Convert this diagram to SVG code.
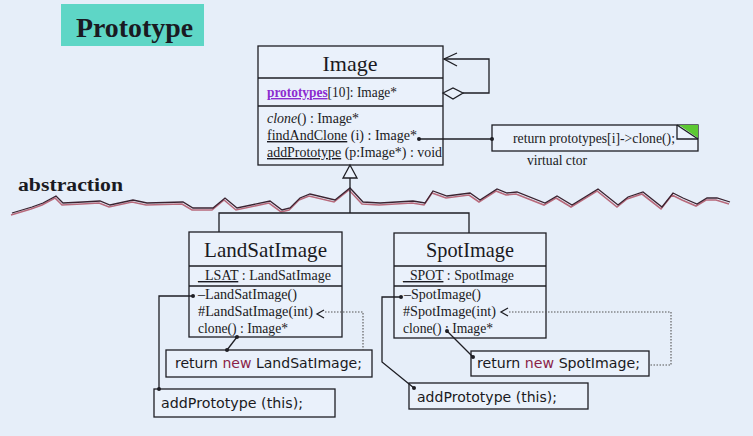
<svg xmlns="http://www.w3.org/2000/svg" width="753" height="436" viewBox="0 0 753 436">
<defs>
<style>
.bg{fill:#e6eef9}
.box{fill:#eaf1fb;stroke:#1e1e24;stroke-width:1.3}
.ln{fill:none;stroke:#1e1e24;stroke-width:1.3}
.dot{fill:none;stroke:#555;stroke-width:1.1;stroke-dasharray:1.5 1.5}
.ser{font-family:"Liberation Serif","Times New Roman",serif;fill:#1a1a22}
.t1{font-size:22px}
.t2{font-size:14px}
.code{font-family:"DejaVu Sans","Liberation Sans",sans-serif;font-size:14px;fill:#1a1a22}
.kw{fill:#8a1f48}
.dt{fill:#1e1e24}
</style>
</defs>
<rect class="bg" x="0" y="0" width="753" height="436"/>

<g id="title">
<rect x="61" y="4" width="143" height="42" fill="#5ed6c6"/>
<text class="ser" x="76" y="37" font-size="27" font-weight="bold" fill="#0d1a33" textLength="117" lengthAdjust="spacingAndGlyphs">Prototype</text>
</g>

<g id="abstraction">
<text class="ser" x="18" y="191" font-size="18" font-weight="bold" fill="#14142a" textLength="105" lengthAdjust="spacingAndGlyphs">abstraction</text>
<polyline transform="translate(-1,2)" fill="none" stroke="#b86a7c" stroke-width="1.6" points="12,213 32,207 43,203 56,196 63,203 83,202 100,201 110,205 133,200 147,203 183,202 193,208 213,208 225,198 237,208 270,201 282,210 290,208 300,198 310,194 335,200 350,188 363,202 380,203 413,201 425,203 433,191 447,196 470,193 480,200 497,189 507,193 517,192 545,203 557,196 572,205 598,189 618,205 628,197 643,192 662,207 673,193 683,198 697,204 707,198 717,198 730,202"/>
<polyline fill="none" stroke="#3a2230" stroke-width="1.3" points="12,213 32,207 43,203 56,196 63,203 83,202 100,201 110,205 133,200 147,203 183,202 193,208 213,208 225,198 237,208 270,201 282,210 290,208 300,198 310,194 335,200 350,188 363,202 380,203 413,201 425,203 433,191 447,196 470,193 480,200 497,189 507,193 517,192 545,203 557,196 572,205 598,189 618,205 628,197 643,192 662,207 673,193 683,198 697,204 707,198 717,198 730,202"/>
</g>

<g id="Image">
<rect class="box" x="258" y="46" width="185" height="119"/>
<line class="ln" x1="258" y1="78" x2="443" y2="78"/>
<line class="ln" x1="258" y1="106" x2="443" y2="106"/>
<text class="ser t1" x="350" y="71" text-anchor="middle">Image</text>
<text class="ser t2" x="267" y="97" textLength="130" lengthAdjust="spacingAndGlyphs"><tspan font-weight="bold" fill="#8c2bd0" text-decoration="underline">prototypes</tspan>[10]: Image*</text>
<text class="ser t2" x="267" y="123" textLength="92" lengthAdjust="spacingAndGlyphs"><tspan font-style="italic">clone</tspan>() : Image*</text>
<text class="ser t2" x="267" y="140" textLength="150" lengthAdjust="spacingAndGlyphs"><tspan text-decoration="underline">findAndClone</tspan> (i) : Image*</text>
<text class="ser t2" x="267" y="157" textLength="175" lengthAdjust="spacingAndGlyphs"><tspan text-decoration="underline">addPrototype</tspan> (p:Image*) : void</text>
</g>

<g id="note">
<rect class="box" x="492" y="125" width="206" height="26"/>
<polygon points="679,125 698,125 698,138" fill="#5cc832"/>
<polyline class="ln" points="677,125 677,139 698,139"/>
<line class="ln" x1="677" y1="125" x2="698" y2="139"/>
<text class="ser t2" x="513" y="143" font-size="13" textLength="162" lengthAdjust="spacingAndGlyphs">return prototypes[i]-&gt;clone();</text>
<text class="ser t2" x="527" y="165" font-size="13" textLength="60" lengthAdjust="spacingAndGlyphs">virtual ctor</text>
</g>

<g id="LandSatImage">
<rect class="box" x="189" y="232" width="153" height="105"/>
<line class="ln" x1="189" y1="266" x2="342" y2="266"/>
<line class="ln" x1="189" y1="286" x2="342" y2="286"/>
<text class="ser t1" x="204" y="257" textLength="123" lengthAdjust="spacingAndGlyphs">LandSatImage</text>
<text class="ser t2" x="198" y="280" textLength="133" lengthAdjust="spacingAndGlyphs"><tspan text-decoration="underline">_LSAT</tspan> : LandSatImage</text>
<text class="ser t2" x="198" y="299" textLength="99" lengthAdjust="spacingAndGlyphs">–LandSatImage()</text>
<text class="ser t2" x="198" y="316" textLength="115" lengthAdjust="spacingAndGlyphs">#LandSatImage(int)</text>
<text class="ser t2" x="198" y="333" textLength="90" lengthAdjust="spacingAndGlyphs">clone() : Image*</text>
</g>

<g id="LandSatReturn">
<rect class="box" x="166" y="350" width="206" height="27"/>
<text class="code" x="175" y="368" textLength="187" lengthAdjust="spacingAndGlyphs">return <tspan class="kw">new</tspan> LandSatImage;</text>
</g>

<g id="LandSatAdd">
<rect class="box" x="154" y="389" width="181" height="28"/>
<text class="code" x="161" y="408" textLength="142" lengthAdjust="spacingAndGlyphs">addPrototype (this);</text>
</g>

<g id="SpotImage">
<rect class="box" x="394" y="233" width="152" height="105"/>
<line class="ln" x1="394" y1="266" x2="546" y2="266"/>
<line class="ln" x1="394" y1="286" x2="546" y2="286"/>
<text class="ser t1" x="426" y="257" textLength="88" lengthAdjust="spacingAndGlyphs">SpotImage</text>
<text class="ser t2" x="403" y="280" textLength="111" lengthAdjust="spacingAndGlyphs"><tspan text-decoration="underline">_SPOT</tspan> : SpotImage</text>
<text class="ser t2" x="404" y="299" textLength="77" lengthAdjust="spacingAndGlyphs">–SpotImage()</text>
<text class="ser t2" x="403" y="316" textLength="93" lengthAdjust="spacingAndGlyphs">#SpotImage(int)</text>
<text class="ser t2" x="403" y="333" textLength="90" lengthAdjust="spacingAndGlyphs">clone() : Image*</text>
</g>

<g id="SpotReturn">
<rect class="box" x="471" y="351" width="178" height="25"/>
<text class="code" x="477" y="368" textLength="163" lengthAdjust="spacingAndGlyphs">return <tspan class="kw">new</tspan> SpotImage;</text>
</g>

<g id="SpotAdd">
<rect class="box" x="409" y="383" width="179" height="26"/>
<text class="code" x="417" y="402" textLength="140" lengthAdjust="spacingAndGlyphs">addPrototype (this);</text>
</g>

<g id="connectors">
<!-- self aggregation -->
<polygon points="443,93 453,88 463,93 453,99" fill="#eaf1fb" stroke="#1e1e24" stroke-width="1.3"/>
<polyline class="ln" points="463,93 489,93 489,59 444,59"/>
<polyline class="ln" points="457,53 444,59 457,66"/>
<!-- findAndClone to note -->
<line class="ln" x1="419" y1="139" x2="492" y2="139"/>
<circle class="dt" cx="419" cy="139" r="2"/>
<circle class="dt" cx="492" cy="139" r="2"/>
<!-- generalization -->
<polygon points="350,165 343,178 357,178" fill="#eaf1fb" stroke="#1e1e24" stroke-width="1.3"/>
<polyline class="ln" points="350,178 350,213"/>
<polyline class="ln" points="219,232 219,213 469,213 469,233"/>
<!-- LandSat -->
<polyline class="dot" points="325,312 363,312 363,350"/>
<polyline class="ln" points="324,310 317,314 324,318"/>
<line class="ln" x1="237" y1="337" x2="227" y2="350"/>
<circle class="dt" cx="237" cy="337" r="2"/>
<circle class="dt" cx="227" cy="350" r="2"/>
<polyline class="ln" points="193,296 159,296 159,389"/>
<circle class="dt" cx="193" cy="296" r="2"/>
<circle class="dt" cx="159" cy="389" r="2"/>
<!-- Spot -->
<polyline class="dot" points="509,312 671,312 671,365 649,365"/>
<polyline class="ln" points="508,308 501,312 508,316"/>
<line class="ln" x1="447" y1="331" x2="473" y2="357"/>
<circle class="dt" cx="447" cy="331" r="2"/>
<circle class="dt" cx="473" cy="357" r="2"/>
<polyline class="ln" points="401,297 382,297 382,362 414,388"/>
<circle class="dt" cx="401" cy="297" r="2"/>
<circle class="dt" cx="414" cy="388" r="2"/>
</g>
</svg>
